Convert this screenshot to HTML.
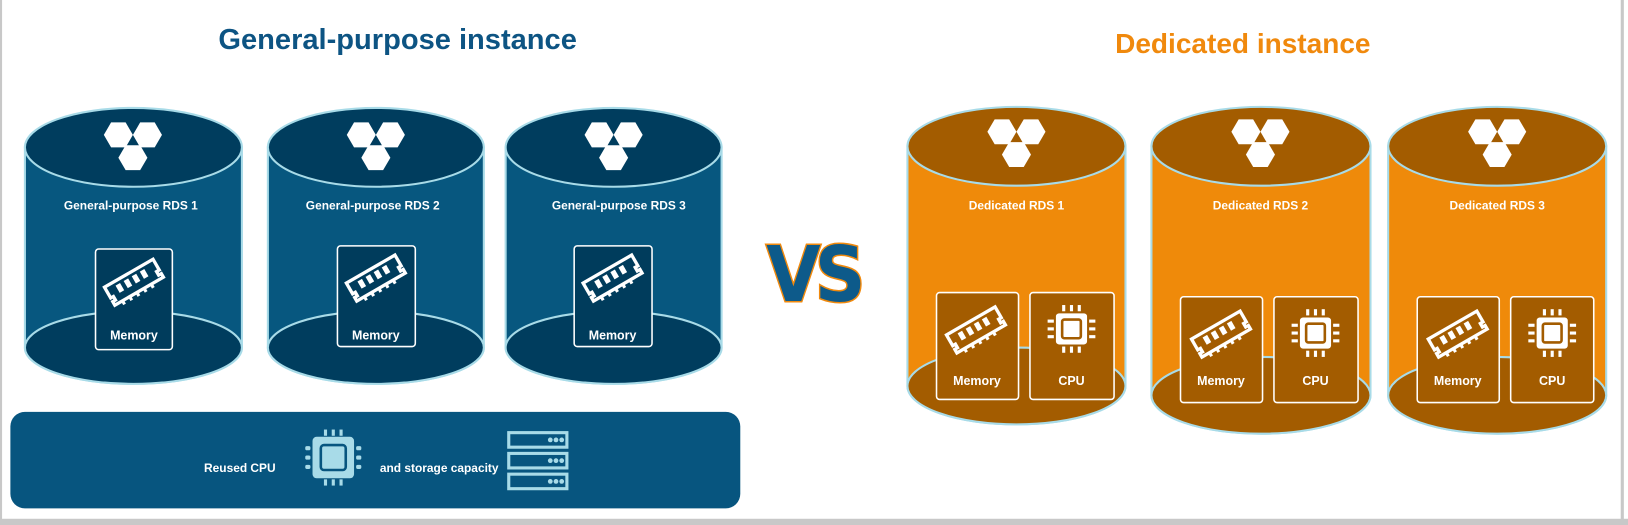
<!DOCTYPE html>
<html><head><meta charset="utf-8"><style>
html,body{margin:0;padding:0;background:#fff;}
svg{display:block;}
text{font-family:"Liberation Sans","DejaVu Sans",sans-serif;font-weight:bold;}
</style></head><body>
<svg width="1628" height="525" viewBox="0 0 1568 506" preserveAspectRatio="none" xmlns="http://www.w3.org/2000/svg">
<defs>
<g id="logo" fill="#fff">
  <polygon points="-28,-7 -21,-19 -7,-19 0,-7 -7,5 -21,5"/>
  <polygon points="0,-7 7,-19 21,-19 28,-7 21,5 7,5"/>
  <polygon points="-14,15 -7,3 7,3 14,15 7,27 -7,27"/>
</g>
<g id="ram" fill="none" stroke="#fff" stroke-width="3.2">
  <g transform="rotate(-30)">
    <path d="M-27,-10 H27 V2 H24 V6 H27 V10 H-27 V6 H-24 V2 H-27 Z"/>
    <g fill="#fff" stroke="none">
      <rect x="-17" y="-6" width="5" height="8"/><rect x="-8" y="-6" width="5" height="8"/>
      <rect x="1" y="-6" width="5" height="8"/><rect x="10" y="-6" width="5" height="8"/>
      <rect x="-20" y="10" width="3" height="4"/><rect x="-12" y="10" width="3" height="4"/>
      <rect x="-4" y="10" width="3" height="4"/><rect x="4" y="10" width="3" height="4"/>
      <rect x="12" y="10" width="3" height="4"/>
    </g>
  </g>
</g>
<g id="cpu">
  <rect x="-15" y="-15" width="30" height="30" rx="3" fill="#fff"/>
  <rect x="-9" y="-9" width="18" height="18" rx="2" fill="none" stroke="#a35c00" stroke-width="2.5"/>
  <g fill="#fff">
    <rect x="-9" y="-23" width="3" height="6"/><rect x="-1.5" y="-23" width="3" height="6"/><rect x="6" y="-23" width="3" height="6"/>
    <rect x="-9" y="17" width="3" height="6"/><rect x="-1.5" y="17" width="3" height="6"/><rect x="6" y="17" width="3" height="6"/>
    <rect x="-23" y="-9" width="6" height="3"/><rect x="-23" y="-1.5" width="6" height="3"/><rect x="-23" y="6" width="6" height="3"/>
    <rect x="17" y="-9" width="6" height="3"/><rect x="17" y="-1.5" width="6" height="3"/><rect x="17" y="6" width="6" height="3"/>
  </g>
</g>
</defs>

<rect x="0" y="0" width="2" height="506" fill="#c8c8c8"/>
<rect x="1561" y="0" width="3" height="506" fill="#c8c8c8"/>
<rect x="0" y="500" width="1568" height="6" fill="#c8c8c8"/>

<text x="383" y="47" text-anchor="middle" font-size="28" fill="#0d5483">General-purpose instance</text>
<text x="1197" y="51" text-anchor="middle" font-size="27" fill="#f0890d">Dedicated instance</text>

<g stroke="#a8dbe8" stroke-width="2">
  <path d="M24,142 V335 A104.5,35 0 0 0 233,335 V142 Z" fill="#07577f"/>
  <ellipse cx="128.5" cy="335" rx="104.5" ry="35" fill="#003d5e"/>
  <ellipse cx="128.5" cy="142" rx="104.5" ry="38" fill="#003d5e"/>
  <path d="M258,142 V335 A104,35 0 0 0 466,335 V142 Z" fill="#07577f"/>
  <ellipse cx="362" cy="335" rx="104" ry="35" fill="#003d5e"/>
  <ellipse cx="362" cy="142" rx="104" ry="38" fill="#003d5e"/>
  <path d="M487,142 V335 A104,35 0 0 0 695,335 V142 Z" fill="#07577f"/>
  <ellipse cx="591" cy="335" rx="104" ry="35" fill="#003d5e"/>
  <ellipse cx="591" cy="142" rx="104" ry="38" fill="#003d5e"/>
</g>
<use href="#logo" x="128" y="137"/>
<use href="#logo" x="362" y="137"/>
<use href="#logo" x="591" y="137"/>
<g font-size="11.5" fill="#fff" text-anchor="middle">
  <text x="126" y="202">General-purpose RDS 1</text>
  <text x="359" y="202">General-purpose RDS 2</text>
  <text x="596" y="202">General-purpose RDS 3</text>
</g>
<g fill="#003c5c" stroke="#fff" stroke-width="1.5">
  <rect x="92" y="240" width="74" height="97" rx="3"/>
  <rect x="325" y="237" width="75" height="97" rx="3"/>
  <rect x="553" y="237" width="75" height="97" rx="3"/>
</g>
<use href="#ram" x="129" y="272"/>
<use href="#ram" x="362" y="268"/>
<use href="#ram" x="590" y="268"/>
<g font-size="12" fill="#fff" text-anchor="middle">
  <text x="129" y="327">Memory</text><text x="362" y="327">Memory</text><text x="590" y="327">Memory</text>
</g>

<rect x="10" y="397" width="703" height="93" rx="14" fill="#07557f"/>
<text x="231" y="455" font-size="11.5" fill="#fff" text-anchor="middle">Reused CPU</text>
<g transform="translate(321,441)">
  <rect x="-20" y="-20" width="40" height="40" rx="4" fill="#a8dbe8"/>
  <rect x="-12" y="-12" width="24" height="24" rx="3" fill="#a8dbe8" stroke="#07557f" stroke-width="2.5"/>
  <g fill="#a8dbe8">
    <rect x="-9" y="-27" width="3" height="6"/><rect x="-1.5" y="-27" width="3" height="6"/><rect x="6" y="-27" width="3" height="6"/>
    <rect x="-9" y="21" width="3" height="6"/><rect x="-1.5" y="21" width="3" height="6"/><rect x="6" y="21" width="3" height="6"/>
    <rect x="-27" y="-11" width="5" height="4" rx="1.5"/><rect x="-27" y="-2" width="5" height="4" rx="1.5"/><rect x="-27" y="7" width="5" height="4" rx="1.5"/>
    <rect x="22" y="-11" width="5" height="4" rx="1.5"/><rect x="22" y="-2" width="5" height="4" rx="1.5"/><rect x="22" y="7" width="5" height="4" rx="1.5"/>
  </g>
</g>
<text x="423" y="455" font-size="11.5" fill="#fff" text-anchor="middle">and storage capacity</text>
<g fill="none" stroke="#a8dbe8" stroke-width="3">
  <rect x="490" y="417" width="56" height="14"/>
  <rect x="490" y="437" width="56" height="14"/>
  <rect x="490" y="457" width="56" height="14"/>
</g>
<g fill="#a8dbe8">
  <circle cx="530" cy="424" r="2.3"/><circle cx="535.5" cy="424" r="2.3"/><circle cx="541" cy="424" r="2.3"/>
  <circle cx="530" cy="444" r="2.3"/><circle cx="535.5" cy="444" r="2.3"/><circle cx="541" cy="444" r="2.3"/>
  <circle cx="530" cy="464" r="2.3"/><circle cx="535.5" cy="464" r="2.3"/><circle cx="541" cy="464" r="2.3"/>
</g>

<text x="783" y="290" text-anchor="middle" font-size="74" fill="#0d5a8a" stroke="#f0890d" stroke-width="3" paint-order="stroke" style="font-family:'DejaVu Sans','Liberation Sans',sans-serif;letter-spacing:-6px" textLength="90" lengthAdjust="spacingAndGlyphs">VS</text>

<g stroke="#a8dbe8" stroke-width="2">
  <path d="M874,141 V372 A105,37 0 0 0 1084,372 V141 Z" fill="#ef8a0a"/>
  <ellipse cx="979" cy="372" rx="105" ry="37" fill="#a35c00"/>
  <ellipse cx="979" cy="141" rx="105" ry="38" fill="#a35c00"/>
  <path d="M1109,141 V381 A105.5,37 0 0 0 1320,381 V141 Z" fill="#ef8a0a"/>
  <ellipse cx="1214.5" cy="381" rx="105.5" ry="37" fill="#a35c00"/>
  <ellipse cx="1214.5" cy="141" rx="105.5" ry="38" fill="#a35c00"/>
  <path d="M1337,141 V381 A105,37 0 0 0 1547,381 V141 Z" fill="#ef8a0a"/>
  <ellipse cx="1442" cy="381" rx="105" ry="37" fill="#a35c00"/>
  <ellipse cx="1442" cy="141" rx="105" ry="38" fill="#a35c00"/>
</g>
<use href="#logo" x="979" y="134"/>
<use href="#logo" x="1214" y="134"/>
<use href="#logo" x="1442" y="134"/>
<g font-size="11.5" fill="#fff" text-anchor="middle">
  <text x="979" y="202">Dedicated RDS 1</text>
  <text x="1214" y="202">Dedicated RDS 2</text>
  <text x="1442" y="202">Dedicated RDS 3</text>
</g>
<g fill="#a35c00" stroke="#fff" stroke-width="1.5">
  <rect x="902" y="282" width="79" height="103" rx="3"/>
  <rect x="992" y="282" width="81" height="103" rx="3"/>
  <rect x="1137" y="286" width="79" height="102" rx="3"/>
  <rect x="1227" y="286" width="81" height="102" rx="3"/>
  <rect x="1365" y="286" width="79" height="102" rx="3"/>
  <rect x="1455" y="286" width="80" height="102" rx="3"/>
</g>
<use href="#ram" x="940" y="318"/>
<use href="#ram" x="1176" y="322"/>
<use href="#ram" x="1404" y="322"/>
<use href="#cpu" x="1032" y="317"/>
<use href="#cpu" x="1267" y="321"/>
<use href="#cpu" x="1495" y="321"/>
<g font-size="12" fill="#fff" text-anchor="middle">
  <text x="941" y="371">Memory</text><text x="1032" y="371">CPU</text>
  <text x="1176" y="371">Memory</text><text x="1267" y="371">CPU</text>
  <text x="1404" y="371">Memory</text><text x="1495" y="371">CPU</text>
</g>
</svg>
</body></html>
